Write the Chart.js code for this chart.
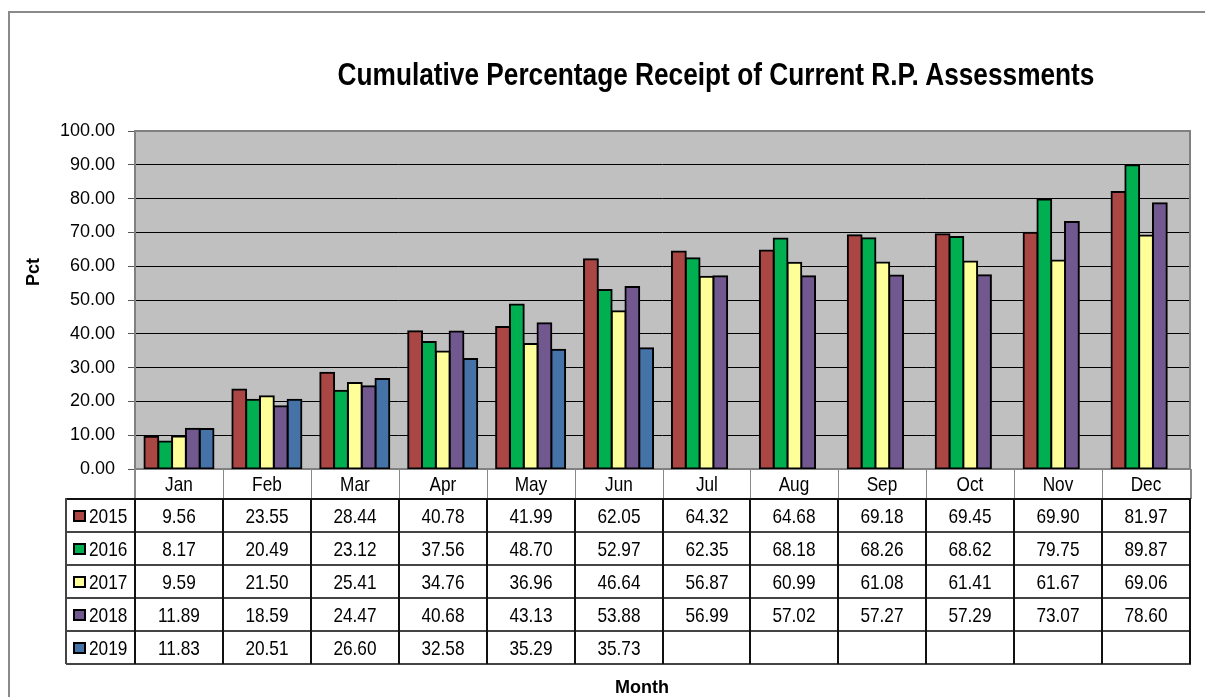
<!DOCTYPE html>
<html>
<head>
<meta charset="utf-8">
<script src="https://cdn.jsdelivr.net/npm/chart.js@4.4.1/dist/chart.umd.min.js"></script>
<style>
html,body{margin:0;padding:0;width:1205px;height:697px;overflow:hidden;background:#fff;}
#wrap{position:relative;width:1205px;height:697px;overflow:hidden;}
#frame{position:absolute;left:8px;top:11px;width:1400px;height:900px;border:2px solid #8a8a8a;box-sizing:border-box;}
canvas{position:absolute;left:0;top:0;}
.t{position:absolute;font-family:'Liberation Sans Narrow','Arial Narrow','Liberation Sans',Arial,sans-serif;color:#000;white-space:nowrap;}
.ln{position:absolute;}
</style>
</head>
<body>
<div id="wrap">
  <div id="frame"></div>
  <canvas id="c" width="1205" height="697"></canvas>
  <div id="overlay"></div>
</div>
<script>
// ---- data ----
const months = ['Jan','Feb','Mar','Apr','May','Jun','Jul','Aug','Sep','Oct','Nov','Dec'];
const years = ['2015','2016','2017','2018','2019'];
const v2015 = [9.56, 23.55, 28.44, 40.78, 41.99, 62.05, 64.32, 64.68, 69.18, 69.45, 69.90, 81.97];
const v2016 = [8.17, 20.49, 23.12, 37.56, 48.70, 52.97, 62.35, 68.18, 68.26, 68.62, 79.75, 89.87];
const v2017 = [9.59, 21.50, 25.41, 34.76, 36.96, 46.64, 56.87, 60.99, 61.08, 61.41, 61.67, 69.06];
const v2018 = [11.89, 18.59, 24.47, 40.68, 43.13, 53.88, 56.99, 57.02, 57.27, 57.29, 73.07, 78.60];
const v2019 = [11.83, 20.51, 26.60, 32.58, 35.29, 35.73, null, null, null, null, null, null];
const yMin = 0, yMax = 100, yStep = 10;
const titleText = 'Cumulative Percentage Receipt of Current R.P. Assessments';
const yTitle = 'Pct';
const xTitle = 'Month';

const seriesValues = [v2015, v2016, v2017, v2018, v2019];
const seriesColors = ['#AA4643', '#00B050', '#FFFF99', '#71588F', '#4572A7'];

const FONT = "'Liberation Sans Narrow','Arial Narrow','Liberation Sans',Arial,sans-serif";
const NARROW = 'scaleX(0.82)';

const plotFrame = {
  id: 'plotFrame',
  beforeDraw(chart) {
    const a = chart.chartArea, ctx = chart.ctx;
    ctx.save();
    ctx.fillStyle = '#C0C0C0';
    ctx.fillRect(a.left, a.top, a.right - a.left, a.bottom - a.top);
    ctx.restore();
  },
  beforeDatasetsDraw(chart) {
    const a = chart.chartArea, ctx = chart.ctx;
    ctx.save();
    ctx.strokeStyle = '#808080';
    ctx.lineWidth = 2;
    ctx.strokeRect(a.left, a.top, a.right - a.left, a.bottom - a.top);
    ctx.restore();
  }
};

const chart = new Chart(document.getElementById('c'), {
  type: 'bar',
  data: {
    labels: months,
    datasets: years.map((y, i) => ({
      label: y,
      data: seriesValues[i],
      backgroundColor: seriesColors[i],
      borderColor: '#000',
      borderWidth: 2,
      borderSkipped: false,
      inflateAmount: 1,
      barPercentage: 1,
      categoryPercentage: 0.785
    }))
  },
  options: {
    responsive: false,
    devicePixelRatio: 1,
    animation: false,
    layout: { padding: { left: 0, top: 131, right: 15, bottom: 228 } },
    plugins: { legend: { display: false }, tooltip: { enabled: false }, title: { display: false } },
    scales: {
      x: { display: false },
      y: {
        min: yMin, max: yMax,
        afterFit(s) { s.width = 135; },
        border: { display: false },
        grid: { color: '#000', lineWidth: 1, drawTicks: true, tickLength: 7, tickColor: '#555' },
        ticks: {
          stepSize: yStep,
          padding: 13,
          color: '#000',
          font: { family: FONT, size: 18 },
          callback: v => Number(v).toFixed(2)
        }
      }
    }
  },
  plugins: [plotFrame]
});

// ---- overlay: titles and data table ----
const ov = document.getElementById('overlay');
function addText(txt, x, y, w, h, css) {
  const d = document.createElement('div');
  d.className = 't';
  d.style.left = x + 'px'; d.style.top = y + 'px';
  d.style.width = w + 'px'; d.style.height = h + 'px';
  d.style.lineHeight = h + 'px';
  d.style.textAlign = 'center';
  if (css) Object.assign(d.style, css);
  d.textContent = txt;
  ov.appendChild(d);
  return d;
}
function addLine(x, y, w, h, color, css) {
  const d = document.createElement('div');
  d.className = 'ln';
  d.style.left = x + 'px'; d.style.top = y + 'px';
  d.style.width = w + 'px'; d.style.height = h + 'px';
  d.style.background = color;
  if (css) Object.assign(d.style, css);
  ov.appendChild(d);
}

// Title
addText(titleText, 216, 55, 1000, 38, { fontWeight: 'bold', fontSize: '32px', transform: NARROW });
// Y title (rotated)
addText(yTitle, 3, 261, 60, 22, { fontWeight: 'bold', fontSize: '18px', transform: 'rotate(-90deg)' });
// X title
addText(xTitle, 592, 676, 100, 22, { fontWeight: 'bold', fontSize: '18px' });

const area = chart.chartArea;
const xs = chart.scales.x;
const L = area.left, R = area.right, B = area.bottom;
const colW = (R - L) / months.length;
const legL = 66;
const headH = 30, rowH = 33;
const rowTop = k => B + headH + k * rowH;
const TS = '21px';

// header month labels
months.forEach((m, i) => {
  const cx = xs.getPixelForValue(i);
  addText(m, cx - colW / 2, B, colW, headH, { fontSize: TS, transform: NARROW });
});
// header vertical lines (grey)
for (let i = 0; i <= months.length; i++) {
  addLine(Math.round(L + i * colW) - (i === 0 ? 1 : 0), B, i === 0 || i === months.length ? 2 : 1, headH, '#8a8a8a');
}
// data rows
years.forEach((y, k) => {
  const top = rowTop(k);
  addLine(73, top + 11, 13, 12, seriesColors[k], { border: '2px solid #000', boxSizing: 'border-box' });
  addText(y, 89, top, 44, rowH, { fontSize: TS, textAlign: 'left', transform: NARROW, transformOrigin: 'left center' });
  seriesValues[k].forEach((v, i) => {
    const cx = xs.getPixelForValue(i);
    addText(v === null ? '' : v.toFixed(2), cx - colW / 2, top, colW, rowH, { fontSize: TS, transform: NARROW });
  });
});
// horizontal lines
for (let k = 0; k <= years.length; k++) {
  addLine(legL, Math.round(rowTop(k)) - 1, R - legL + 1, k === 0 ? 2 : 1.5, k === 0 ? '#111' : '#444');
}
// vertical lines for data rows
addLine(legL - 1, rowTop(0) - 1, 1.5, rowH * years.length + 1, '#444');
for (let i = 0; i <= months.length; i++) {
  addLine(Math.round(L + i * colW) - 1, rowTop(0) - 1, 2, rowH * years.length + 1, '#111');
}
</script>
</body>
</html>
